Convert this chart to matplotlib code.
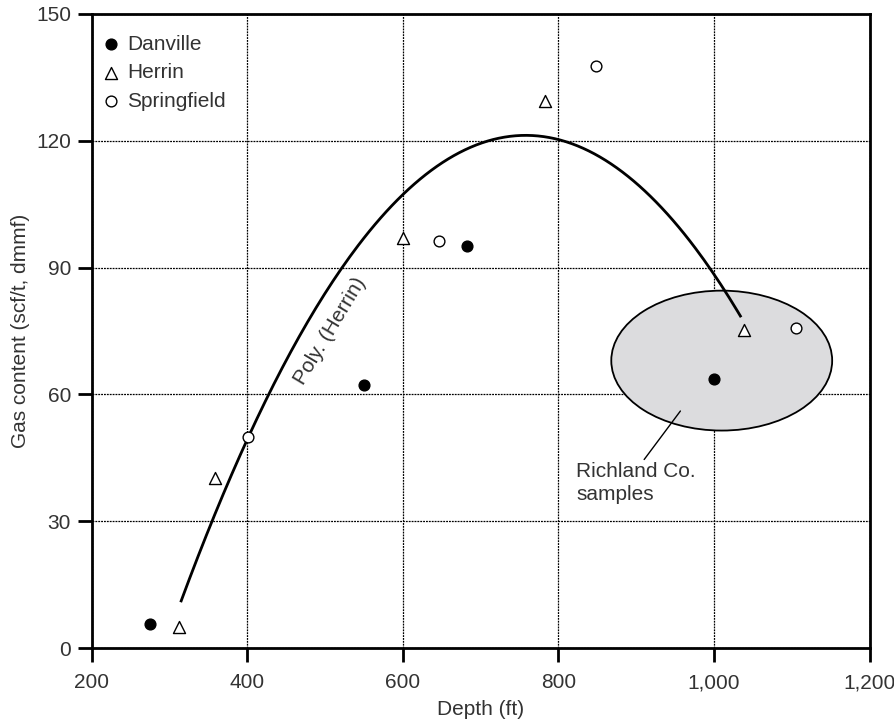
import numpy as np
import matplotlib
matplotlib.use('Agg')
import matplotlib.pyplot as plt
from matplotlib.patches import Ellipse

plt.rcParams['font.family'] = ['Liberation Sans', 'DejaVu Sans']

# data
danville_x = [275, 550, 683, 1000]
danville_y = [5.7, 62.3, 95.0, 63.7]
herrin_x = [312, 359, 600, 783, 1038]
herrin_y = [5.0, 40.3, 97.1, 129.4, 75.3]
springfield_x = [401, 646, 848, 1106]
springfield_y = [49.9, 96.4, 137.7, 75.8]

xticks = [200, 400, 600, 800, 1000, 1200]
xticklabels = ['200', '400', '600', '800', '1,000', '1,200']
yticks = [0, 30, 60, 90, 120, 150]

txt = '#333333'
fs = 15

fig = plt.figure(figsize=(8.94, 7.21), dpi=100)
ax = fig.add_axes([0.1026, 0.1012, 0.8700, 0.8794])

# Richland Co. ellipse
ell = Ellipse((1010, 68.0), 284, 33.1, facecolor='#dcdcde', edgecolor='black', lw=1.3, zorder=2)
ax.add_patch(ell)

# polynomial trend for Herrin
coef = np.polyfit(herrin_x, herrin_y, 2)
xs = np.linspace(315, 1034, 200)
ax.plot(xs, np.polyval(coef, xs), color='black', lw=2, zorder=3)

ax.scatter(danville_x, danville_y, marker='o', s=60, facecolor='black', edgecolor='black', zorder=5, label='Danville')
ax.scatter(herrin_x, herrin_y, marker='^', s=75, facecolor='white', edgecolor='black', lw=1, zorder=5, label='Herrin')
ax.scatter(springfield_x, springfield_y, marker='o', s=60, facecolor='white', edgecolor='black', lw=1, zorder=5, label='Springfield')

ax.set_xlim(200, 1200)
ax.set_ylim(0, 150)
ax.set_xticks(xticks)
ax.set_xticklabels(xticklabels)
ax.set_yticks(yticks)
ax.grid(True, color='black', linestyle=(0, (1.5, 0.8)), lw=0.9)
ax.set_axisbelow(True)
for s in ax.spines.values():
    s.set_linewidth(2)
ax.tick_params(direction='out', length=10, width=2, labelsize=fs, labelcolor=txt, pad=5)
ax.tick_params(axis='x', pad=8)

ax.set_xlabel('Depth (ft)', fontsize=fs, color=txt, labelpad=6)
ax.set_ylabel('Gas content (scf/t, dmmf)', fontsize=fs, color=txt, labelpad=4)

ax.text(507, 75, 'Poly. (Herrin)', rotation=59, fontsize=fs, color=txt, ha='center', va='center')

ax.annotate('Richland Co.\nsamples', xy=(959, 56.6), xytext=(823, 39), fontsize=fs, color=txt,
            ha='left', va='center', linespacing=1.25,
            arrowprops=dict(arrowstyle='-', color='black', lw=1, shrinkA=0, shrinkB=2,
                            relpos=(0.55, 1.0)))

leg = ax.legend(loc='upper left', frameon=False, fontsize=fs, handletextpad=0.3,
                borderaxespad=0.3, labelspacing=0.45, handlelength=1.0,
                bbox_to_anchor=(-0.008, 0.99))
for t in leg.get_texts():
    t.set_color(txt)

fig.savefig('out.png', dpi=100)
